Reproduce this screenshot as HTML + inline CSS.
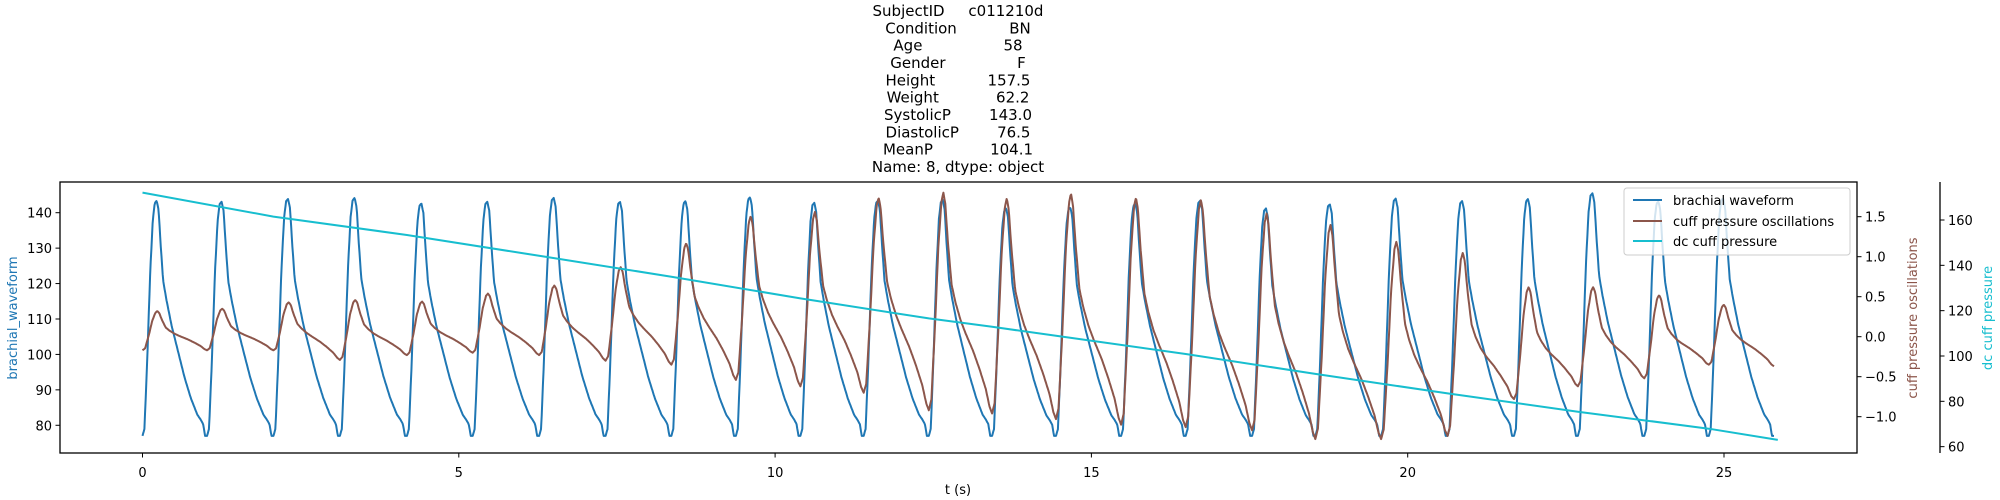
<!DOCTYPE html>
<html><head><meta charset="utf-8"><style>
html,body{margin:0;padding:0;background:#fff;}
svg{display:block;font-family:"DejaVu Sans","Liberation Sans",sans-serif;}
.t{font-size:15px;}
.tk{font-size:13px;}
</style></head><body>
<svg id="chart" width="2000" height="500" viewBox="0 0 2000 500" xmlns="http://www.w3.org/2000/svg">
<g id="title" text-anchor="middle" class="t">
<text x="958" y="16">SubjectID&#160;&#160;&#160;&#160;&#160;c011210d</text>
<text x="958" y="33.3">Condition&#160;&#160;&#160;&#160;&#160;&#160;&#160;&#160;&#160;&#160;&#160;BN</text>
<text x="958" y="50.6">Age&#160;&#160;&#160;&#160;&#160;&#160;&#160;&#160;&#160;&#160;&#160;&#160;&#160;&#160;&#160;&#160;&#160;58</text>
<text x="958" y="68">Gender&#160;&#160;&#160;&#160;&#160;&#160;&#160;&#160;&#160;&#160;&#160;&#160;&#160;&#160;&#160;F</text>
<text x="958" y="85.3">Height&#160;&#160;&#160;&#160;&#160;&#160;&#160;&#160;&#160;&#160;&#160;157.5</text>
<text x="958" y="102.6">Weight&#160;&#160;&#160;&#160;&#160;&#160;&#160;&#160;&#160;&#160;&#160;&#160;62.2</text>
<text x="958" y="120">SystolicP&#160;&#160;&#160;&#160;&#160;&#160;&#160;&#160;143.0</text>
<text x="958" y="137.3">DiastolicP&#160;&#160;&#160;&#160;&#160;&#160;&#160;&#160;76.5</text>
<text x="958" y="154.6">MeanP&#160;&#160;&#160;&#160;&#160;&#160;&#160;&#160;&#160;&#160;&#160;&#160;104.1</text>
<text x="958" y="172">Name: 8, dtype: object</text>
</g>
<g id="series"></g>
<g id="axes"></g>
<g id="legend">
<rect x="1624" y="188" width="226" height="67" rx="3" fill="#fff" fill-opacity="0.8" stroke="#ccc"/>
<g><line x1="1633" y1="200" x2="1662" y2="200" stroke="#1f77b4" stroke-width="2"/><text x="1673" y="205" class="tk">brachial waveform</text></g>
<g><line x1="1633" y1="221" x2="1662" y2="221" stroke="#8c564b" stroke-width="2"/><text x="1673" y="226" class="tk">cuff pressure oscillations</text></g>
<g><line x1="1633" y1="241" x2="1662" y2="241" stroke="#17becf" stroke-width="2"/><text x="1673" y="246" class="tk">dc cuff pressure</text></g>
</g>
</svg>
<script>
// ---- data ----
const beatOnsets = [0,1.02,2.07,3.12,4.18,5.22,6.27,7.32,8.36,9.38,10.4,11.4,12.43,13.43,14.44,15.47,16.49,17.54,18.54,19.58,20.63,21.68,22.69,23.74,24.76];
const endTime = 25.85;
const brachialTrough = 77;
const brachialPeaks = [143.4,143.1,143.9,144.2,142.6,143.1,144.2,143.1,143.3,144.4,142.8,143.4,143.6,141.2,141.5,142.6,143.4,141.2,142.4,144.0,143.3,143.9,145.5,143.2,144.1];
const cuffPeaks = [0.32,0.35,0.43,0.46,0.44,0.54,0.64,0.87,1.17,1.51,1.56,1.74,1.8,1.73,1.79,1.74,1.71,1.54,1.40,1.19,1.05,0.62,0.62,0.52,0.40];
const cuffTroughs = [-0.17,-0.17,-0.17,-0.29,-0.23,-0.2,-0.23,-0.3,-0.35,-0.54,-0.62,-0.7,-0.92,-0.96,-1.03,-1.1,-1.13,-1.17,-1.28,-1.28,-1.24,-0.78,-0.62,-0.52,-0.35,-0.37];
const dcTimes = [0,2.07,4.18,6.27,8.36,10.4,12.43,13.43,14.44,16.49,18.54,20.63,22.69,24.76,25.85];
const dcValues = [172.1,161.5,153.4,144.2,135.0,125.4,116.6,112.9,108.9,100.9,92.1,83.5,75.4,67.9,63.0];
// beat shape templates (phase, normalized level)
const bPhase = [0,0.03,0.07,0.12,0.16,0.19,0.22,0.25,0.28,0.32,0.37,0.45,0.55,0.65,0.75,0.85,0.9,0.94,0.97,1.0];
const bLevel = [0,0.03,0.3,0.7,0.92,0.99,1,0.96,0.82,0.66,0.58,0.47,0.36,0.25,0.16,0.09,0.07,0.05,0.0,0];
const cPhase = [0,0.04,0.1,0.15,0.2,0.23,0.26,0.3,0.36,0.42,0.5,0.58,0.7,0.8,0.9,0.96,1.0];
const cLevel = [0,0.05,0.4,0.75,0.96,1,0.95,0.78,0.58,0.5,0.42,0.36,0.28,0.2,0.11,0.03,0];
const xTicks = [0,5,10,15,20,25];
const yTicks = [80,90,100,110,120,130,140];
const cTicks = [-1.0,-0.5,0.0,0.5,1.0,1.5];
const dTicks = [60,80,100,120,140,160];

// ---- scales ----
const L=60,R=1857,T=182,B=453;
const X=t=>142.5+t*63.26;
const Y=v=>212.7+(140-v)*3.543;
const YC=v=>336.7-v*80;
const YD=v=>220+(160-v)*2.2665;
const NS="http://www.w3.org/2000/svg";
function mk(tag,attrs,parent){const e=document.createElementNS(NS,tag);for(const k in attrs)e.setAttribute(k,attrs[k]);parent.appendChild(e);return e;}
function interp(ph,ps,ls){for(let i=1;i<ps.length;i++){if(ph<=ps[i]){const f=(ph-ps[i-1])/(ps[i]-ps[i-1]);return ls[i-1]+(ls[i]-ls[i-1])*f;}}return ls[ls.length-1];}
const series=document.getElementById('series');
const axes=document.getElementById('axes');

let pb=[],pc=[];
for(let k=0;k<beatOnsets.length;k++){
  const t0=beatOnsets[k];
  const per=(k+1<beatOnsets.length?beatOnsets[k+1]:beatOnsets[k]+1.03)-t0;
  const t1=Math.min(t0+per,endTime);
  const ca=cuffTroughs[k],cb=cuffTroughs[k+1];
  for(let t=t0;t<=t1+1e-9;t+=0.01){
    const ph=(t-t0)/per;
    const vb=brachialTrough+(brachialPeaks[k]-brachialTrough)*interp(ph,bPhase,bLevel);
    pb.push(X(t).toFixed(1)+','+Y(vb).toFixed(1));
    const base=ca+(cb-ca)*ph;
    const vc=base+(cuffPeaks[k]-base)*interp(ph,cPhase,cLevel);
    pc.push(X(t).toFixed(1)+','+YC(vc).toFixed(1));
  }
}
const lb=mk('polyline',{points:pb.join(' '),fill:'none',stroke:'#1f77b4','stroke-width':2,'stroke-linejoin':'round'},series);


const lc=mk('polyline',{points:pc.join(' '),fill:'none',stroke:'#8c564b','stroke-width':2,'stroke-linejoin':'round'},series);


let pd=[];
for(let i=0;i<dcTimes.length;i++)pd.push(X(dcTimes[i]).toFixed(1)+','+YD(dcValues[i]).toFixed(1));
const ld=mk('polyline',{points:pd.join(' '),fill:'none',stroke:'#17becf','stroke-width':2,'stroke-linejoin':'round'},series);



// axes
const fr=mk('rect',{x:L,y:T,width:R-L,height:B-T,fill:'none',stroke:'#000','stroke-width':1.3},axes);


const sp=mk('line',{x1:1940,y1:T,x2:1940,y2:B,stroke:'#000','stroke-width':1.3},axes);


xTicks.forEach(v=>{const x=X(v);mk('line',{x1:x,y1:B,x2:x,y2:B+4.5,stroke:'#000'},axes);
  const t=mk('text',{x:x,y:477,'text-anchor':'middle',class:'tk'},axes);t.textContent=v;
  
  });
yTicks.forEach(v=>{const y=Y(v);mk('line',{x1:L,y1:y,x2:L-4.5,y2:y,stroke:'#000'},axes);
  const t=mk('text',{x:L-8,y:y+5,'text-anchor':'end',class:'tk'},axes);t.textContent=v;
  
  });
cTicks.forEach(v=>{const y=YC(v);mk('line',{x1:R,y1:y,x2:R+4.5,y2:y,stroke:'#000'},axes);
  const t=mk('text',{x:R+8,y:y+5,class:'tk'},axes);t.textContent=(v<0?'\u2212':'')+Math.abs(v).toFixed(1);
  
  });
dTicks.forEach(v=>{const y=YD(v);mk('line',{x1:1940,y1:y,x2:1944.5,y2:y,stroke:'#000'},axes);
  const t=mk('text',{x:1948,y:y+5,class:'tk'},axes);t.textContent=v;
  
  });
function lab(txt,x,y,rot,col,name){const t=mk('text',{x:x,y:y,'text-anchor':'middle',class:'tk',fill:col,transform:rot?`rotate(-90 ${x} ${y})`:''},axes);t.textContent=txt;
  
  }
lab('t (s)',958,494,false,'#000','x-axis-title');
lab('brachial_waveform',17,318,true,'#1f77b4','y-axis-title');
lab('cuff pressure oscillations',1917,318,true,'#8c564b','cuff-axis-title');
lab('dc cuff pressure',1992,318,true,'#17becf','dc-axis-title');
</script>
</body></html>
